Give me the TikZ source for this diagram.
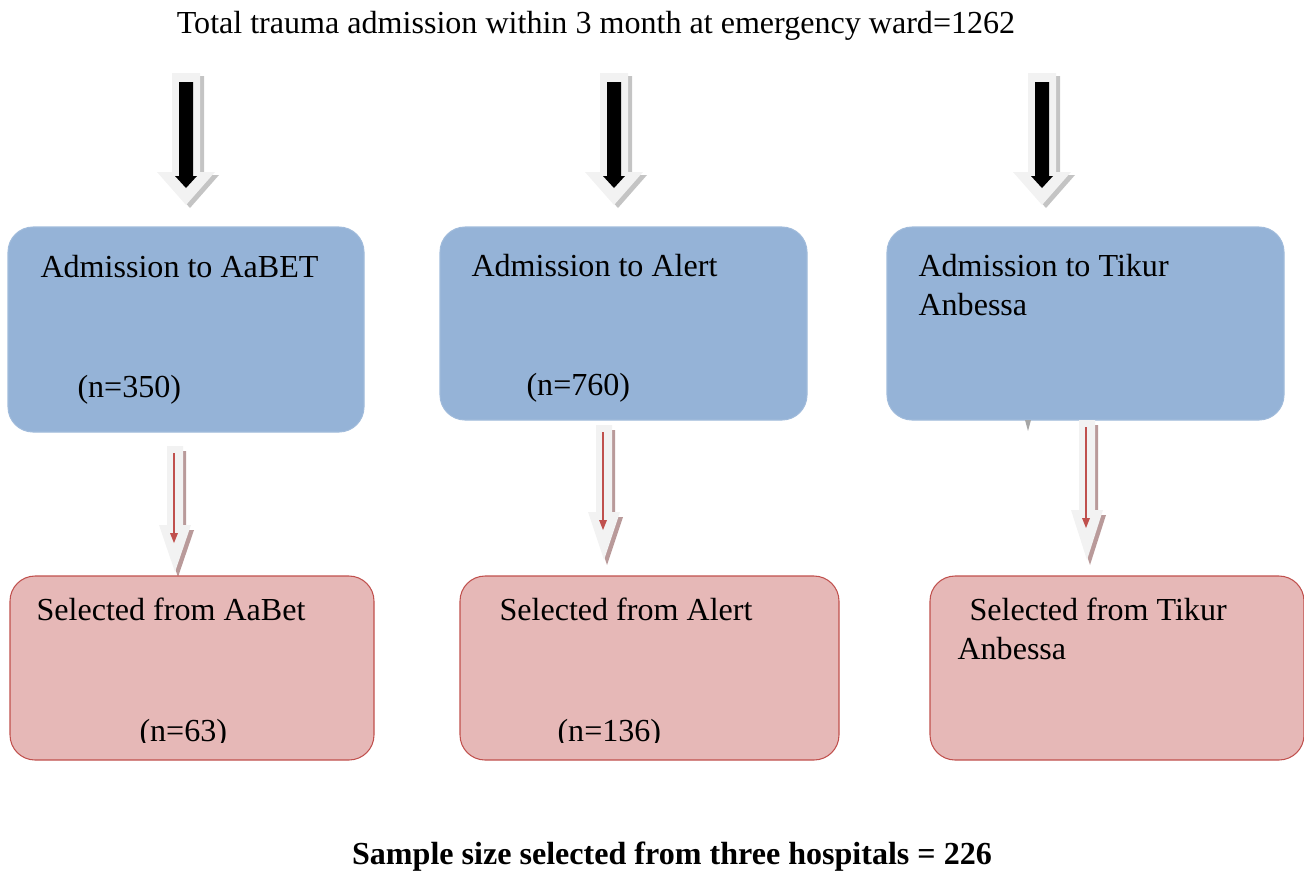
\documentclass[tikz,border=0pt]{standalone}
\usepackage{fontspec}
\setmainfont{Liberation Serif}
\usetikzlibrary{fit}
\definecolor{boxblue}{HTML}{95B3D7}
\definecolor{boxpink}{HTML}{E6B8B7}
\definecolor{pinkedge}{HTML}{C0504D}
\definecolor{lightfill}{HTML}{F2F2F2}
\definecolor{grayshadow}{HTML}{C4C4C4}
\definecolor{brownshadow}{HTML}{B99A9A}
\definecolor{redline}{HTML}{C0504D}
\newcommand\arrowshape[6]{(#1-#5,#2) -- (#1+#5,#2) -- (#1+#5,#3) -- (#1+#6,#3) -- (#1,#4) -- (#1-#6,#3) -- (#1-#5,#3) -- cycle}
\tikzset{
  bluebox/.style={fill=boxblue, draw=boxblue!90!white, line width=0.4pt, rounded corners=9.5pt, inner sep=0pt},
  pinkbox/.style={fill=boxpink, draw=pinkedge, line width=0.4pt, rounded corners=9.5pt, inner sep=0pt},
  txt/.style={anchor=base west, inner sep=0pt, font=\fontsize{12.15}{14.8}\selectfont},
  ctxt/.style={anchor=base, inner sep=0pt, font=\fontsize{12.15}{14.8}\selectfont},
}
\begin{document}
\begin{tikzpicture}[x=0.3788pt, y=-0.3788pt]
\useasboundingbox (0,0) rectangle (1304,873);
% title
\node[ctxt] (title) at (596,33) {Total trauma admission within 3 month at emergency ward=1262};
% top block arrows
\foreach \cx in {186,614,1042}{
  \fill[grayshadow, shift={(4,3)}] \arrowshape{\cx}{73}{172}{205}{14}{29};
  \fill[lightfill] \arrowshape{\cx}{73}{172}{205}{14}{29};
  \fill[black] \arrowshape{\cx}{82}{176}{188}{7}{11};
}
% blue boxes
\node[bluebox, fit={(8,227)(364,432)}] (b1) {};
\node[bluebox, fit={(440,227)(807,420)}] (b2) {};
\node[bluebox, fit={(887,227)(1284,420)}] (b3) {};
\fill[gray!70] (1025,420) -- (1031,420) -- (1028,431) -- cycle;
\node[txt] (b1t) at (40,277) {Admission to AaBET};
\node[txt] (b1n) at (77,397) {(n=350)};
\node[txt] (b2t) at (471,276) {Admission to Alert};
\node[txt] (b2n) at (526,395) {(n=760)};
\node[txt] (b3t) at (918,276) {Admission to Tikur};
\node[txt] (b3u) at (918,315) {Anbessa};
% red block arrows: cx, top, headstart, tip
\foreach \cx/\tp/\hs/\tip in {175/446/525/572, 604/425/512/560, 1087/420/510/560}{
  \fill[brownshadow, shift={(3,5)}] \arrowshape{\cx}{\tp}{\hs}{\tip}{8}{16};
  \fill[lightfill] \arrowshape{\cx}{\tp}{\hs}{\tip}{8}{16};
  \draw[redline, line width=0.6pt] (\cx-1,\tp+7) -- (\cx-1,\hs+8);
  \fill[redline] (\cx-5,\hs+8) -- (\cx+3,\hs+8) -- (\cx-1,\hs+18) -- cycle;
}
% pink boxes
\node[pinkbox, fit={(10,576)(374,760)}] (p1) {};
\node[pinkbox, fit={(460,576)(839,760)}] (p2) {};
\node[pinkbox, fit={(930,576)(1304,760)}] (p3) {};
\node[txt] (p1t) at (36,620) {Selected from AaBet};
\node[txt] (p2t) at (499,620) {Selected from Alert};
\node[txt] (p3t) at (969,620) {Selected from Tikur};
\node[txt] (p3u) at (957,659) {Anbessa};
\begin{scope}
  \clip (0,700) rectangle (1304,742);
  \node[txt] (p1n) at (139,741) {(n=63)};
  \node[txt] (p2n) at (557,741) {(n=136)};
\end{scope}
% bottom
\node[ctxt, font=\fontsize{12.15}{14.8}\selectfont\bfseries] (total) at (672,864) {Sample size selected from three hospitals = 226};
\end{tikzpicture}
\end{document}
